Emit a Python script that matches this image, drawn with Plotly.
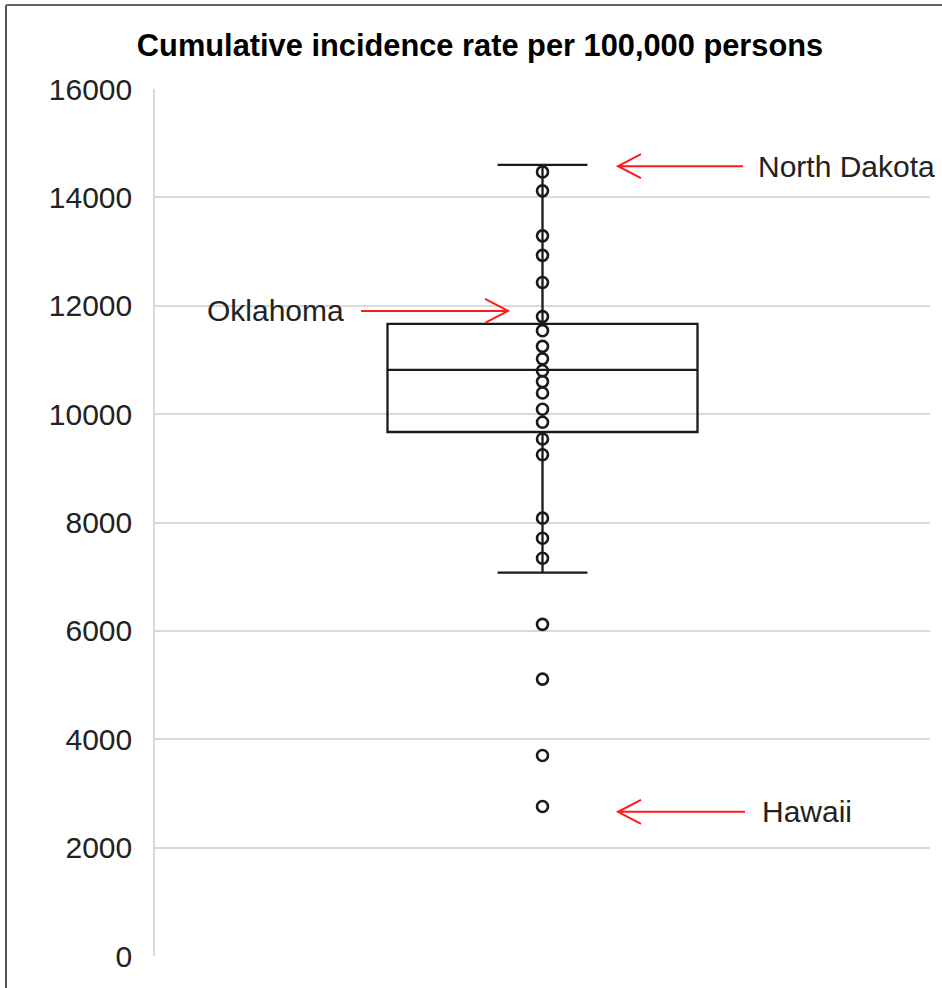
import plotly.graph_objects as go

# ---- data ----
state_rates = [14470, 14120, 13290, 12930, 12430, 11800, 11540, 11250, 11020,
               10800, 10600, 10390, 10090, 9850, 9540, 9250, 8080, 7710, 7340,
               6120, 5110, 3700, 2760]
box_q1 = 9670
box_median = 10815
box_q3 = 11665
box_lower = 7075
box_upper = 14600

y_ticks = [0, 2000, 4000, 6000, 8000, 10000, 12000, 14000, 16000]

label_names = ["North Dakota", "Oklahoma", "Hawaii"]
label_y = [14575, 11905, 2660]          # value the arrow points at
label_tip_x = [0.2435, -0.111, 0.2435]  # x (data) of the arrow tip
label_text_x = [0.69, -0.633, 0.70]
label_side = ["right", "left", "right"]  # side the text sits on
arrow_len = [125, 147, 127]              # pixel length of arrow

FONT = "Liberation Sans, Arial, sans-serif"

fig = go.Figure()

fig.add_trace(go.Box(
    x=[0], q1=[box_q1], median=[box_median], q3=[box_q3],
    lowerfence=[box_lower], upperfence=[box_upper],
    width=1.0, whiskerwidth=0.29,
    line=dict(color="#1a1a1a", width=2.3),
    fillcolor="rgba(0,0,0,0)",
    boxpoints=False, hoverinfo="skip", showlegend=False,
))

fig.add_trace(go.Scatter(
    x=[0] * len(state_rates), y=state_rates, mode="markers",
    marker=dict(symbol="circle-open", size=11, color="#1a1a1a",
                line=dict(width=2.6, color="#1a1a1a")),
    showlegend=False,
))

shapes = []
annotations = []
for name, yv, tx, lx, side, L in zip(label_names, label_y, label_tip_x,
                                      label_text_x, label_side, arrow_len):
    s = 1 if side == "right" else -1
    path = (f"M0,0 L{s*L},0 M{s*23},12 L0,0 L{s*23},-12")
    shapes.append(dict(type="path", xref="x", yref="y",
                       xsizemode="pixel", ysizemode="pixel",
                       xanchor=tx, yanchor=yv, path=path,
                       line=dict(color="#ff1a1a", width=2)))
    annotations.append(dict(x=lx, y=yv, xref="x", yref="y", text=name,
                            showarrow=False,
                            xanchor="left" if side == "right" else "right",
                            yanchor="middle",
                            font=dict(family=FONT, size=30, color="#222222")))

# outer frame lines (left and top)
shapes.append(dict(type="line", xref="paper", yref="paper",
                   x0=(6 - 155) / 775, x1=(6 - 155) / 775,
                   y0=(956 - 5) / 867, y1=(956 - 990) / 867,
                   line=dict(color="#555555", width=2)))
shapes.append(dict(type="line", xref="paper", yref="paper",
                   x0=(6 - 155) / 775, x1=(945 - 155) / 775,
                   y0=(956 - 5) / 867, y1=(956 - 5) / 867,
                   line=dict(color="#666666", width=2)))

fig.update_layout(
    width=942, height=988,
    margin=dict(l=155, r=12, t=89, b=32),
    paper_bgcolor="white", plot_bgcolor="white",
    title=dict(text="<b>Cumulative incidence rate per 100,000 persons</b>",
               x=0.5096, xanchor="center", y=1 - 45 / 988, yanchor="middle",
               font=dict(family=FONT, size=30.8, color="#000000")),
    xaxis=dict(range=[-1.25, 1.25], showgrid=False, zeroline=False,
               showticklabels=False, showline=False, fixedrange=True),
    yaxis=dict(range=[0, 16000], tickvals=y_ticks,
               ticktext=[str(v) for v in y_ticks],
               showgrid=True, gridcolor="#d9d9d9", gridwidth=1.5,
               zeroline=False, showline=True, linecolor="#d9d9d9",
               linewidth=1.5, ticks="", ticklabelstandoff=15,
               tickfont=dict(family=FONT, size=30, color="#222222")),
    shapes=shapes, annotations=annotations,
)

fig.write_html(
    "out.html",
    config={"displayModeBar": False},
    post_script="document.body.style.margin='0';document.body.style.overflow='hidden';",
)
